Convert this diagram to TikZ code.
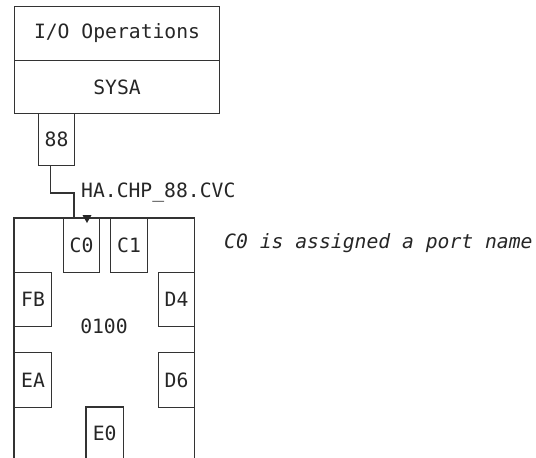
\documentclass[tikz,border=0pt]{standalone}
\usepackage{fontspec}
\setmonofont{DejaVu Sans Mono}
\begin{document}
\begin{tikzpicture}[x=1pt,y=-1pt,
  ln/.style={draw=black!80, line width=1.1pt},
  lbl/.style={font=\ttfamily\fontsize{19.7}{21}\selectfont, text=black!85, inner sep=0pt},
  bx/.style 2 args={ln, lbl, anchor=north west, minimum width=#1, minimum height=#2, inner sep=0pt},
  region/.style 2 args={anchor=north west, minimum width=#1, minimum height=#2, inner sep=0pt}
]
\useasboundingbox (0,0) rectangle (536,458);
% top system box
\node[bx={205pt}{54pt}] (io) at (14,6) {I/O Operations};
\node[bx={205pt}{53pt}] (sysa) at (14,60) {SYSA};
\node[bx={36pt}{52pt}] (p88) at (38,113) {88};
% main switch box (open at bottom)
\node[region={180pt}{240pt}] (main) at (14,218) {};
\draw[ln] (main.south west) -- (main.north west) -- (main.north east) -- (main.south east);
\node[lbl] (sw) at (104,326) {0100};
% ports
\node[bx={36pt}{54pt}] (c0) at (63,218) {C0};
\node[bx={37pt}{54pt}] (c1) at (110,218) {C1};
\node[bx={37pt}{54pt}] (fb) at (14,272) {FB};
\node[bx={36pt}{54pt}] (d4) at (158,272) {D4};
\node[bx={37pt}{55pt}] (ea) at (14,352) {EA};
\node[bx={36pt}{55pt}] (d6) at (158,352) {D6};
\node[region={37pt}{51pt}] (e0) at (86,407) {};
\node[lbl] at ([yshift=-26pt]e0.north) {E0};
\draw[ln] (e0.south west) -- (e0.north west) -- (e0.north east) -- (e0.south east);
% connector
\coordinate (bend) at (74,193);
\draw[ln] ([xshift=-6pt]p88.south) |- (bend) -- (bend |- main.north);
\node[lbl, anchor=west] (chp) at (81,193) {HA.CHP\_88.CVC};
\fill[black!85] (82.5,215) -- (91.5,215) -- (87,223) -- cycle;
% note
\node[lbl, anchor=west, font=\ttfamily\itshape\fontsize{19.7}{21}\selectfont] (note) at (224,243) {C0 is assigned a port name};
\end{tikzpicture}
\end{document}
